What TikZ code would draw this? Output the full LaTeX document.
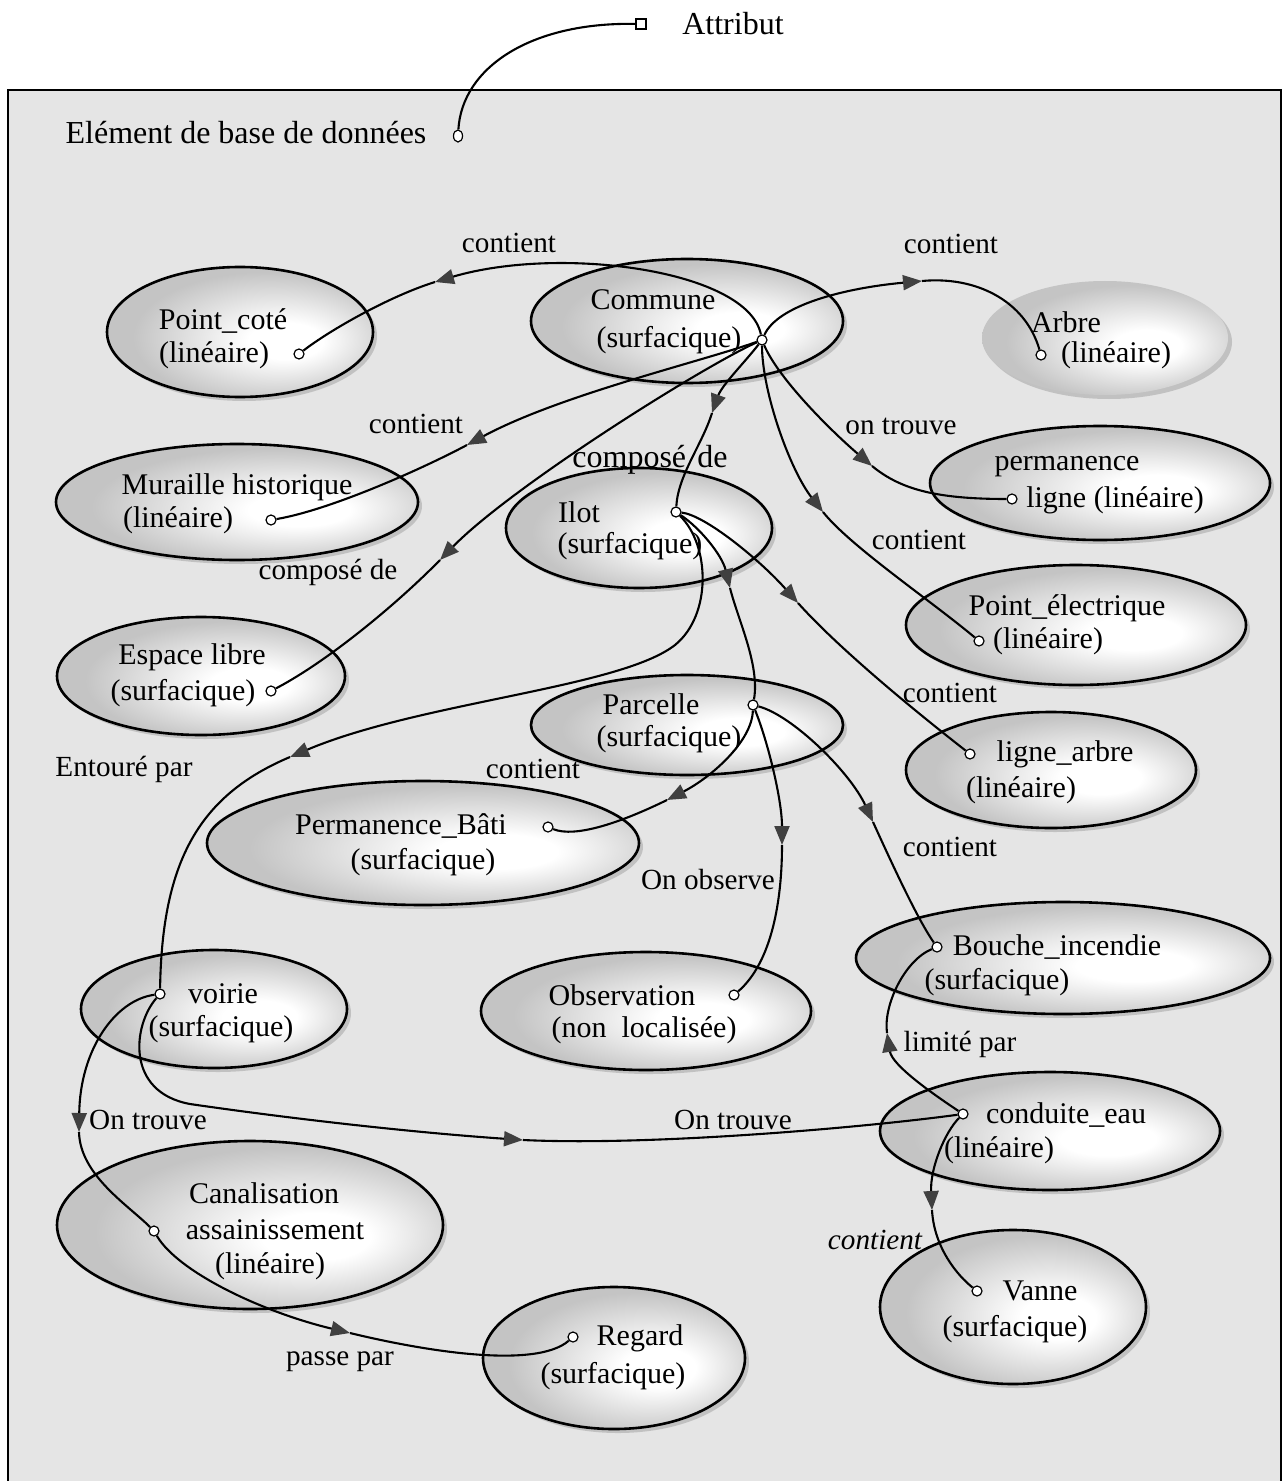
\documentclass[tikz,border=0pt]{standalone}
\usepackage{fontspec}
\setmainfont{Liberation Serif}
\usetikzlibrary{shapes.geometric,arrows.meta,shadows}
\definecolor{bggray}{gray}{0.90}
\definecolor{ellgray}{gray}{0.77}
\definecolor{tipgray}{gray}{0.25}
\pgfdeclareradialshading{ellshade}{\pgfpoint{10bp}{-4bp}}{color(0bp)=(white); color(7bp)=(white); color(25bp)=(ellgray); color(50bp)=(ellgray)}
\newcommand\fTxt{\fontsize{15}{18}\selectfont}
\newcommand\fLab{\fontsize{14.6}{17}\selectfont}
\newcommand\fBig{\fontsize{16}{19}\selectfont}
\begin{document}
\begin{tikzpicture}[x=0.5pt,y=-0.5pt,
  ent/.style={ellipse, draw, line width=1.3pt, shading=ellshade, inner sep=0pt,
    drop shadow={shadow xshift=2pt, shadow yshift=-2pt, fill=gray!75}},
  att/.style={circle, draw, line width=0.6pt, fill=white, inner sep=0pt, minimum size=5pt},
  txt/.style={font=\fTxt, inner sep=0pt},
  lab/.style={font=\fLab, inner sep=0pt},
  link/.style={line width=1.05pt},
  arrowed/.style={link, -{Triangle[length=9.5pt,width=7.5pt,color=tipgray]}}]

% page and frame
\useasboundingbox (0,0) rectangle (1284,1481);
\fill[white] (0,0) rectangle (1284,1481);
\fill[bggray] (8,90) rectangle (1281,1481);
\draw[line width=1.1pt] (8,1481) -- (8,90) -- (1281,90) -- (1281,1481);

% header: database element and attribute legend
\node[font=\fBig, inner sep=0pt] (elem) at (246,133) {Elément de base de données};
\node[att, minimum width=4.5pt, minimum height=6pt, ellipse] (aElem) at (458,136) {};
\node[draw, line width=0.6pt, fill=white, inner sep=0pt, minimum size=5pt] (sq) at (641,24) {};
\node[font=\fBig, inner sep=0pt] (attr) at (733,24) {Attribut};
\draw[link] (aElem) .. controls (462,68) and (530,22) .. (sq);

% entities
\node[ent, minimum width=133pt, minimum height=65pt] (pointcote) at (240,332) {};
\node[ent, minimum width=156pt, minimum height=62pt] (commune) at (687,321) {};
\node[ent, draw=none, minimum width=123pt, minimum height=57pt] (arbre) at (1105,338) {};
\node[ent, minimum width=181pt, minimum height=58pt] (muraille) at (237,502) {};
\node[ent, minimum width=133pt, minimum height=60pt] (ilot) at (639,528) {};
\node[ent, minimum width=170pt, minimum height=57pt] (permligne) at (1100,483) {};
\node[ent, minimum width=144pt, minimum height=59pt] (espace) at (201,676) {};
\node[ent, minimum width=170pt, minimum height=60pt] (pointelec) at (1076,625) {};
\node[ent, minimum width=156pt, minimum height=50pt] (parcelle) at (687,725) {};
\node[ent, minimum width=145pt, minimum height=58pt] (lignearbre) at (1051,770) {};
\node[ent, minimum width=216pt, minimum height=62pt] (permbati) at (423,843) {};
\node[ent, minimum width=207pt, minimum height=56pt] (bouche) at (1063,958) {};
\node[ent, minimum width=133pt, minimum height=59pt] (voirie) at (214,1009) {};
\node[ent, minimum width=165pt, minimum height=59pt] (observation) at (646,1011) {};
\node[ent, minimum width=170pt, minimum height=59pt] (conduite) at (1050,1131) {};
\node[ent, minimum width=193pt, minimum height=84pt] (canal) at (250,1225) {};
\node[ent, minimum width=133pt, minimum height=77pt] (vanne) at (1013,1307) {};
\node[ent, minimum width=131pt, minimum height=71pt] (regard) at (614,1358) {};

% attribute anchors
\node[att] (aPointcote) at (299,354) {};
\node[att] (aCommune) at (762,340) {};
\node[att] (aArbre) at (1041,355) {};
\node[att] (aMuraille) at (271,520) {};
\node[att] (aIlot) at (676,512) {};
\node[att] (aPermligne) at (1012,499) {};
\node[att] (aEspace) at (271,691) {};
\node[att] (aPointelec) at (979,641) {};
\node[att] (aParcelle) at (753,705) {};
\node[att] (aLignearbre) at (970,754) {};
\node[att] (aPermbati) at (548,827) {};
\node[att] (aBouche) at (937,947) {};
\node[att] (aVoirie) at (160,994) {};
\node[att] (aObservation) at (734,995) {};
\node[att] (aConduite) at (963,1114) {};
\node[att] (aCanal) at (154,1231) {};
\node[att] (aVanne) at (977,1291) {};
\node[att] (aRegard) at (573,1337) {};

% arrow positions along the links
\coordinate (m1) at (435,282);
\coordinate (m2) at (922,281);
\coordinate (m3) at (467,445);
\coordinate (m4) at (440,560);
\coordinate (m5) at (712,413);
\coordinate (m6) at (872,466);
\coordinate (m7) at (823,512);
\coordinate (m8) at (798,603);
\coordinate (m9) at (730,588);
\coordinate (m10) at (290,757);
\coordinate (m11) at (667,800);
\coordinate (m12) at (782,845);
\coordinate (m13) at (873,822);
\coordinate (m14) at (887,1033);
\coordinate (m15) at (79,1132);
\coordinate (m16) at (523,1140);
\coordinate (m17) at (350,1333);
\coordinate (m18) at (932,1210);

% links
\draw[arrowed] (aCommune) .. controls (748,270) and (560,245) .. (m1);
\draw[link] (m1) .. controls (390,296) and (330,330) .. (aPointcote);

\draw[arrowed] (aCommune) .. controls (778,305) and (845,288) .. (m2);
\draw[link] (m2) .. controls (975,276) and (1025,300) .. (aArbre);

\draw[arrowed] (aCommune) .. controls (700,362) and (560,395) .. (m3);
\draw[link] (m3) .. controls (422,469) and (330,510) .. (aMuraille);

\draw[arrowed] (aCommune) .. controls (700,368) and (510,488) .. (m4);
\draw[link] (m4) .. controls (400,601) and (330,660) .. (aEspace);

\draw[arrowed] (aCommune) .. controls (745,362) and (722,385) .. (m5);
\draw[link] (m5) .. controls (702,445) and (678,475) .. (aIlot);

\draw[arrowed] (aCommune) .. controls (778,378) and (830,430) .. (m6);
\draw[link] (m6) .. controls (900,489) and (935,499) .. (aPermligne);

\draw[arrowed] (aCommune) .. controls (762,392) and (790,470) .. (m7);
\draw[link] (m7) .. controls (850,546) and (930,600) .. (aPointelec);

\draw[arrowed] (aIlot) .. controls (705,515) and (760,560) .. (m8);
\draw[link] (m8) .. controls (840,650) and (920,715) .. (aLignearbre);

\draw[arrowed] (aIlot) .. controls (700,528) and (722,555) .. (m9);
\draw[link] (m9) .. controls (738,620) and (760,665) .. (aParcelle);

\draw[arrowed] (aIlot) .. controls (710,545) and (712,615) .. (675,645)
  .. controls (620,688) and (420,702) .. (m10);
\draw[link] (m10) .. controls (200,795) and (162,860) .. (aVoirie);

\draw[arrowed] (aParcelle) .. controls (752,742) and (710,778) .. (m11);
\draw[link] (m11) .. controls (620,823) and (575,838) .. (aPermbati);

\draw[arrowed] (aParcelle) .. controls (768,742) and (782,800) .. (m12);
\draw[link] (m12) .. controls (782,900) and (772,962) .. (aObservation);

\draw[arrowed] (aParcelle) .. controls (792,715) and (850,772) .. (m13);
\draw[link] (m13) .. controls (893,866) and (918,920) .. (aBouche);

\draw[arrowed] (aConduite) .. controls (930,1092) and (892,1065) .. (m14);
\draw[link] (m14) .. controls (883,1005) and (905,960) .. (aBouche);

\draw[arrowed] (aVoirie) .. controls (115,1000) and (80,1050) .. (m15);
\draw[link] (m15) .. controls (80,1175) and (128,1205) .. (aCanal);

\draw[arrowed] (aVoirie) .. controls (133,1025) and (125,1092) .. (190,1104)
  .. controls (300,1120) and (420,1133) .. (m16);
\draw[link] (m16) .. controls (650,1146) and (860,1128) .. (aConduite);

\draw[arrowed] (aCanal) .. controls (178,1272) and (262,1312) .. (m17);
\draw[link] (m17) .. controls (420,1350) and (535,1370) .. (aRegard);

\draw[arrowed] (aConduite) .. controls (945,1132) and (930,1168) .. (m18);
\draw[link] (m18) .. controls (934,1248) and (958,1276) .. (aVanne);

% entity texts
\node[txt] (tPointcote1) at (223,321) {Point\_coté};
\node[txt] (tPointcote2) at (214,355) {(linéaire)};
\node[txt] (tCommune1) at (653,300) {Commune};
\node[txt] (tCommune2) at (669,340) {(surfacique)};
\node[txt] (tArbre1) at (1066,322) {Arbre};
\node[txt] (tArbre2) at (1116,355) {(linéaire)};
\node[txt] (tMuraille1) at (237,487) {Muraille historique};
\node[txt] (tMuraille2) at (178,520) {(linéaire)};
\node[txt] (tIlot1) at (579,512) {Ilot};
\node[txt] (tIlot2) at (630,546) {(surfacique)};
\node[txt] (tPermligne1) at (1067,467) {permanence};
\node[txt] (tPermligne2) at (1115,500) {ligne (linéaire)};
\node[txt] (tEspace1) at (192,657) {Espace libre};
\node[txt] (tEspace2) at (183,693) {(surfacique)};
\node[txt] (tPointelec1) at (1067,608) {Point\_électrique};
\node[txt] (tPointelec2) at (1048,641) {(linéaire)};
\node[txt] (tParcelle1) at (651,704) {Parcelle};
\node[txt] (tParcelle2) at (669,739) {(surfacique)};
\node[txt] (tLignearbre1) at (1065,754) {ligne\_arbre};
\node[txt] (tLignearbre2) at (1021,790) {(linéaire)};
\node[txt] (tPermbati1) at (401,826) {Permanence\_Bâti};
\node[txt] (tPermbati2) at (423,862) {(surfacique)};
\node[txt] (tBouche1) at (1057,947) {Bouche\_incendie};
\node[txt] (tBouche2) at (997,982) {(surfacique)};
\node[txt] (tVoirie1) at (223,994) {voirie};
\node[txt] (tVoirie2) at (221,1029) {(surfacique)};
\node[txt] (tObservation1) at (622,995) {Observation};
\node[txt] (tObservation2) at (644,1030) {(non\ \ localisée)};
\node[txt] (tConduite1) at (1066,1115) {conduite\_eau};
\node[txt] (tConduite2) at (999,1150) {(linéaire)};
\node[txt] (tCanal1) at (264,1193) {Canalisation};
\node[txt] (tCanal2) at (275,1230) {assainissement};
\node[txt] (tCanal3) at (270,1266) {(linéaire)};
\node[txt] (tVanne1) at (1040,1291) {Vanne};
\node[txt] (tVanne2) at (1015,1329) {(surfacique)};
\node[txt] (tRegard1) at (640,1338) {Regard};
\node[txt] (tRegard2) at (613,1376) {(surfacique)};

% link labels
\node[lab] (l1) at (509,243) {contient};
\node[lab] (l2) at (951,244) {contient};
\node[lab] (l3) at (416,424) {contient};
\node[lab] (l4) at (901,426) {on trouve};
\node[font=\fBig, inner sep=0pt] (l5) at (650,460) {composé\hspace{0.35em}de};
\node[lab] (l6) at (919,540) {contient};
\node[lab] (l7) at (328,572) {composé de};
\node[lab] (l8) at (950,693) {contient};
\node[lab] (l9) at (124,769) {Entouré par};
\node[lab] (l10) at (533,769) {contient};
\node[lab] (l11) at (950,847) {contient};
\node[lab] (l12) at (708,880) {On observe};
\node[lab] (l13) at (960,1044) {limité par};
\node[lab] (l14) at (148,1120) {On trouve};
\node[lab] (l15) at (733,1120) {On trouve};
\node[lab, font=\fLab\itshape] (l16) at (875,1240) {contient};
\node[lab] (l17) at (340,1362) {passe par};
\end{tikzpicture}
\end{document}
